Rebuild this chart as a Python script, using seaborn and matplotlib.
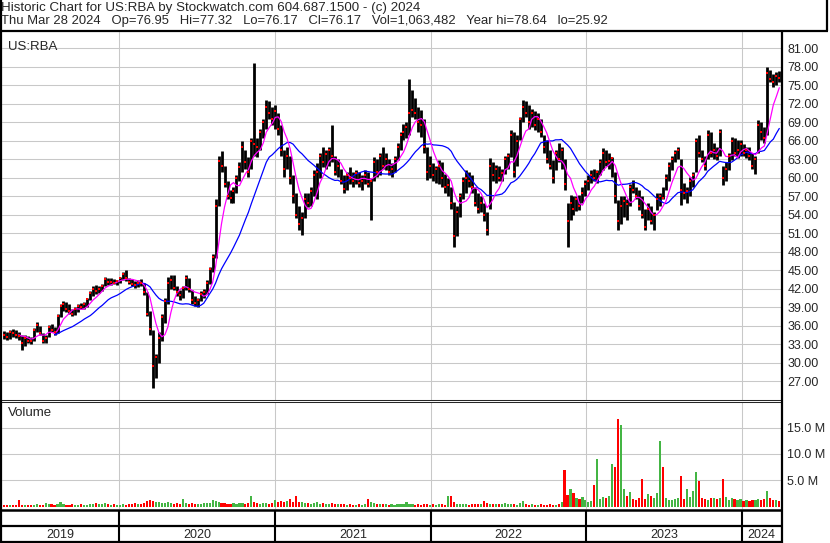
import numpy as np
import pandas as pd
import matplotlib
matplotlib.use("Agg")
import matplotlib.pyplot as plt
from matplotlib.lines import Line2D
import seaborn as sns

# weekly bars (Friday of each week), Apr 2019 - Mar 2024
week_start = "2019-04-05"
n_weeks = 261

price_lo = [
    33.9, 33.8, 33.9, 34.2, 34.0, 33.8, 32.1, 32.8, 33.2, 33.0,
    33.5, 35.0, 34.5, 33.2, 33.3, 34.2, 35.0, 34.6, 34.8, 37.5,
    38.5, 38.3, 38.0, 37.6, 37.7, 38.3, 38.7, 38.8, 39.0, 40.2,
    40.9, 41.2, 41.3, 41.6, 42.4, 42.7, 42.6, 42.8, 42.7, 42.9,
    43.5, 43.3, 42.8, 42.4, 42.2, 42.3, 42.4, 41.0, 37.6, 34.5,
    25.9, 27.5, 30.0, 33.5, 36.5, 39.5, 42.0, 41.8, 40.8, 40.2,
    40.5, 41.8, 41.5, 39.6, 39.2, 39.0, 40.0, 40.6, 41.2, 42.8,
    44.8, 47.0, 55.5, 61.0, 58.5, 56.5, 55.9, 56.0, 57.5, 59.5,
    61.0, 61.5, 60.2, 61.5, 63.5, 63.4, 64.5, 66.5, 68.0, 69.5,
    68.5, 68.0, 67.0, 63.5, 60.2, 61.5, 59.0, 55.9, 53.5, 51.5,
    50.8, 53.5, 55.3, 55.5, 57.0, 56.5, 60.0, 61.8, 61.5, 62.0,
    62.5, 60.5, 60.2, 59.0, 57.5, 58.0, 59.0, 58.6, 59.0, 58.5,
    58.0, 59.0, 58.5, 53.2, 59.5, 60.2, 60.5, 61.5, 61.3, 60.5,
    60.2, 61.0, 62.9, 64.5, 66.1, 66.5, 67.0, 69.9, 69.5, 67.5,
    66.7, 64.0, 59.7, 60.0, 59.5, 59.1, 59.0, 58.6, 57.5, 57.0,
    55.0, 48.8, 50.5, 53.7, 56.5, 57.5, 58.6, 57.5, 55.5, 54.3,
    54.5, 53.0, 50.8, 55.0, 59.5, 59.1, 59.5, 59.5, 60.7, 61.5,
    63.4, 60.2, 62.0, 66.1, 69.0, 69.9, 68.0, 68.2, 67.8, 67.5,
    66.7, 64.0, 62.4, 61.5, 59.1, 61.3, 62.5, 61.5, 58.0, 48.8,
    53.2, 54.0, 54.6, 54.8, 56.0, 57.0, 58.0, 59.1, 59.5, 59.2,
    60.5, 61.3, 62.0, 61.5, 60.2, 56.0, 51.6, 52.5, 53.7, 53.2,
    55.5, 57.5, 56.5, 54.8, 53.5, 51.6, 53.2, 52.5, 51.6, 54.8,
    55.5, 56.5, 58.0, 59.5, 61.3, 62.5, 63.0, 55.6, 56.5, 55.9,
    57.0, 58.5, 61.0, 63.4, 62.5, 61.3, 63.0, 63.4, 63.0, 62.9,
    63.5, 58.8, 59.5, 61.3, 62.9, 63.5, 63.2, 63.5, 63.5, 63.2,
    62.9, 61.5, 60.7, 64.0, 66.1, 65.6, 67.0, 75.5, 74.8, 75.0, 75.5,
]

price_hi = [
    35.2, 35.0, 35.4, 35.5, 35.3, 35.1, 34.5, 34.6, 34.4, 34.2,
    35.6, 36.6, 36.0, 34.8, 34.5, 36.2, 36.3, 35.8, 38.0, 39.6,
    40.0, 39.9, 39.5, 38.8, 39.0, 39.5, 39.8, 39.9, 40.6, 41.6,
    42.5, 42.6, 42.4, 42.8, 43.9, 43.8, 43.7, 43.6, 43.5, 44.0,
    44.8, 45.1, 43.8, 43.6, 43.3, 43.5, 43.6, 43.0, 41.5, 38.5,
    35.3, 31.5, 35.0, 38.0, 40.5, 44.0, 44.3, 44.2, 42.5, 41.8,
    42.5, 44.2, 43.8, 41.8, 40.8, 40.5, 41.6, 42.0, 43.4, 45.6,
    47.6, 56.5, 63.5, 64.3, 62.0, 59.5, 58.0, 58.5, 60.5, 62.5,
    65.9, 64.5, 63.4, 66.5, 78.6, 66.5, 68.0, 69.5, 72.6, 72.4,
    71.5, 71.8, 70.5, 68.5, 64.5, 65.0, 63.5, 60.5, 57.5, 55.5,
    54.5, 57.5, 57.5, 58.5, 61.3, 62.4, 64.0, 65.0, 64.5, 65.0,
    68.6, 63.5, 63.0, 61.5, 60.5, 61.0, 61.8, 61.0, 61.3, 61.0,
    60.5, 61.3, 61.0, 60.0, 63.4, 63.0, 64.0, 65.0, 64.0, 63.0,
    62.4, 63.5, 65.6, 67.5, 68.8, 69.0, 76.1, 74.2, 73.0, 71.5,
    71.0, 69.5, 65.0, 63.5, 62.4, 62.0, 62.9, 62.5, 60.7, 60.0,
    58.5, 56.1, 55.5, 57.5, 60.2, 61.3, 61.0, 60.5, 58.5, 57.5,
    57.0, 56.0, 54.5, 63.2, 62.5, 62.1, 62.0, 61.5, 63.5, 64.0,
    67.8, 67.5, 67.0, 69.9, 72.6, 72.4, 71.8, 71.2, 70.8, 70.5,
    69.5, 67.0, 66.1, 64.5, 62.9, 64.5, 65.6, 65.0, 63.0, 56.0,
    57.2, 57.0, 57.0, 57.2, 58.5, 59.7, 60.5, 61.3, 61.5, 61.3,
    63.0, 64.8, 64.5, 64.0, 63.4, 61.0, 56.4, 57.0, 57.0, 56.5,
    59.0, 59.7, 58.5, 58.0, 57.0, 55.0, 55.9, 55.5, 54.5, 57.5,
    57.5, 58.5, 60.7, 62.5, 63.5, 64.5, 65.0, 63.0, 59.1, 58.5,
    60.2, 61.0, 66.5, 66.9, 64.5, 63.5, 67.8, 67.5, 65.6, 65.0,
    68.0, 62.0, 62.5, 64.0, 66.7, 66.5, 66.1, 66.1, 65.5, 65.0,
    65.0, 64.0, 63.5, 69.4, 69.0, 68.3, 78.0, 77.5, 76.8, 77.2, 77.3,
]

price_close = [
    34.5, 34.2, 35.0, 34.8, 34.6, 34.3, 33.2, 34.0, 33.6, 33.5,
    35.3, 36.2, 34.8, 33.6, 34.0, 35.9, 35.4, 35.0, 37.6, 39.2,
    39.5, 38.8, 38.4, 38.0, 38.7, 39.2, 39.0, 39.6, 40.3, 41.4,
    42.0, 41.6, 42.0, 42.5, 43.6, 43.1, 43.2, 43.0, 43.3, 43.8,
    44.4, 43.8, 43.2, 42.8, 42.6, 43.0, 42.9, 41.5, 38.0, 35.5,
    29.5, 31.0, 34.0, 37.5, 40.0, 43.0, 43.5, 42.2, 41.5, 41.0,
    42.2, 43.8, 42.0, 40.2, 39.8, 40.2, 41.2, 41.5, 43.0, 45.2,
    47.2, 55.5, 62.8, 62.0, 59.0, 57.0, 56.8, 57.8, 60.0, 61.8,
    65.0, 62.5, 61.0, 66.0, 65.5, 65.0, 67.5, 69.0, 71.5, 70.5,
    69.5, 70.8, 68.0, 64.5, 61.5, 63.5, 60.0, 57.0, 54.0, 52.5,
    53.5, 56.5, 56.0, 57.8, 60.5, 61.0, 63.5, 62.5, 63.8, 64.5,
    63.5, 61.0, 62.0, 59.5, 58.2, 60.5, 60.0, 59.5, 60.8, 59.2,
    59.5, 60.5, 59.0, 59.5, 62.5, 61.0, 63.5, 62.0, 63.0, 61.0,
    61.5, 63.0, 65.0, 67.0, 67.5, 68.2, 70.5, 71.0, 70.5, 69.0,
    68.5, 65.0, 61.0, 62.0, 60.5, 61.5, 62.0, 60.0, 58.5, 58.8,
    56.0, 50.5, 54.5, 57.0, 59.5, 60.0, 59.5, 58.5, 56.0, 55.0,
    56.0, 54.0, 51.5, 62.0, 60.5, 61.5, 60.0, 60.8, 63.0, 63.5,
    67.0, 61.0, 66.0, 69.5, 71.5, 70.5, 69.0, 70.5, 68.5, 69.5,
    67.5, 65.0, 63.0, 62.0, 60.0, 64.0, 63.0, 64.5, 59.0, 53.0,
    56.0, 55.0, 56.5, 55.5, 57.5, 59.0, 59.5, 60.5, 60.0, 61.0,
    62.5, 64.0, 62.5, 62.8, 63.2, 57.0, 53.0, 55.5, 56.2, 55.8,
    58.5, 58.0, 57.0, 55.5, 54.0, 52.0, 55.0, 53.0, 54.0, 56.5,
    57.0, 56.8, 60.0, 62.0, 63.0, 64.0, 64.5, 58.0, 57.5, 57.8,
    59.5, 60.5, 66.0, 64.0, 63.0, 62.0, 67.0, 64.0, 64.5, 63.5,
    67.5, 60.0, 61.5, 63.5, 66.0, 64.0, 64.5, 65.5, 64.0, 64.5,
    63.5, 62.0, 63.0, 68.5, 67.5, 66.5, 77.0, 76.0, 75.5, 76.5, 76.17,
]

# volume, millions of shares
volume_m = [
    0.3, 0.2, 0.3, 0.2, 0.3, 1.2, 0.3, 0.2, 0.3, 0.2,
    0.3, 0.4, 0.3, 0.3, 0.6, 0.4, 0.5, 0.3, 0.5, 0.8,
    0.4, 0.3, 0.3, 0.4, 0.3, 0.3, 0.4, 0.3, 0.3, 0.4,
    0.5, 0.6, 0.4, 0.5, 0.6, 0.4, 0.3, 0.4, 0.3, 0.3,
    0.4, 0.3, 0.4, 0.5, 0.6, 0.5, 0.5, 0.7, 1.0, 1.2,
    1.1, 0.9, 0.8, 0.6, 0.7, 0.8, 0.6, 0.5, 0.6, 0.5,
    1.4, 0.7, 0.5, 0.6, 0.4, 0.5, 0.5, 0.6, 0.7, 0.6,
    1.3, 1.0, 0.8, 0.6, 0.7, 0.5, 0.5, 0.6, 0.5, 0.6,
    0.6, 0.5, 0.6, 2.0, 0.9, 0.6, 0.5, 0.7, 0.6, 0.5,
    0.7, 1.2, 0.9, 1.1, 0.9, 1.0, 1.5, 0.8, 2.0, 0.9,
    0.8, 0.7, 0.6, 0.5, 0.6, 0.8, 0.5, 0.6, 0.5, 0.4,
    0.6, 0.5, 0.4, 0.5, 0.4, 0.3, 0.4, 0.3, 0.3, 0.4,
    0.3, 0.4, 1.4, 0.8, 0.6, 0.5, 0.4, 0.5, 0.4, 0.3,
    0.4, 0.3, 0.5, 0.4, 0.5, 0.9, 0.5, 0.4, 0.3, 0.4,
    0.3, 0.5, 0.4, 0.3, 0.4, 0.3, 0.4, 0.5, 0.3, 2.0,
    2.0, 0.8, 0.5, 0.4, 0.5, 0.4, 0.3, 0.4, 0.5, 0.4,
    0.5, 1.0, 0.6, 0.5, 0.4, 0.5, 0.4, 0.5, 0.6, 0.4,
    0.5, 0.4, 0.3, 0.6, 1.0, 0.4, 0.3, 0.4, 0.3, 0.3,
    0.4, 0.3, 0.3, 0.4, 0.3, 0.3, 0.4, 0.8, 6.95, 2.2,
    3.3, 2.6, 1.6, 1.4, 1.8, 1.2, 0.9, 1.0, 4.1, 9.05,
    1.5, 1.8, 1.6, 2.0, 8.1, 7.6, 16.7, 15.5, 3.4, 2.0,
    2.8, 1.4, 1.2, 1.6, 5.2, 1.5, 2.4, 2.0, 1.7, 2.5,
    12.5, 7.5, 1.6, 1.3, 1.2, 1.4, 1.6, 5.8, 1.5, 3.3,
    1.8, 3.0, 6.6, 4.9, 1.6, 1.4, 1.2, 1.6, 1.7, 1.5,
    1.6, 5.2, 1.8, 1.3, 1.6, 1.5, 1.2, 1.4, 1.0, 1.2,
    1.1, 1.3, 1.2, 1.5, 1.2, 1.4, 3.0, 1.6, 1.2, 1.3, 1.06,
]

price_ticks = list(range(27, 82, 3))
volume_ticks = [5, 10, 15]
years = ["2019", "2020", "2021", "2022", "2023", "2024"]

header_1 = "Historic Chart for US:RBA by Stockwatch.com 604.687.1500 - (c) 2024"
header_2 = ("Thu Mar 28 2024   Op=76.95   Hi=77.32   Lo=76.17   Cl=76.17   "
            "Vol=1,063,482   Year hi=78.64   lo=25.92")

df = pd.DataFrame({
    "date": pd.date_range(week_start, periods=n_weeks, freq="7D"),
    "lo": price_lo, "hi": price_hi, "close": price_close, "vol": volume_m,
})
# moving averages (~30 day and ~90 day)
df["ma_fast"] = df["close"].rolling(6).mean()
df["ma_slow"] = df["close"].rolling(18).mean()
chg = df["close"].diff().fillna(-1)
df["vcol"] = np.where(chg > 0, "#44b544", np.where(chg < 0, "#ff0000", "#a8a8a8"))

sns.set_style("white")
plt.rcParams["font.family"] = ["Liberation Sans", "DejaVu Sans"]
plt.rcParams["font.size"] = 9

W, H = 830, 543
fig = plt.figure(figsize=(W / 100, H / 100), dpi=100)


def fx(px):
    return px / W


def fy(py):
    return 1 - py / H


def line(x0, y0, x1, y1, lw=0.72, color="black"):
    fig.add_artist(Line2D([fx(x0), fx(x1)], [fy(y0), fy(y1)], color=color,
                          lw=lw, solid_capstyle="butt"))


t0 = pd.Timestamp(week_start)
xlim = (t0 - pd.Timedelta(days=4.3), t0 + pd.Timedelta(days=1824))
year_lines = [pd.Timestamp(f"{y}-01-01") for y in years[1:]]
grid_kw = dict(color="#c8c8c8", lw=0.75)

# price panel
ax = fig.add_axes([fx(2), fy(400), fx(781) - fx(2), fy(32) - fy(400)])
ax.vlines(df["date"], df["lo"], df["hi"], color="black", lw=2.0)
sns.lineplot(data=df, x="date", y="ma_slow", ax=ax, color="#0000ff", lw=0.9)
sns.lineplot(data=df, x="date", y="ma_fast", ax=ax, color="#ff00ff", lw=0.9)
sns.scatterplot(data=df, x="date", y="close", ax=ax, color="#ff0000",
                marker="s", s=3, linewidth=0, zorder=5)
ax.set_xlim(xlim)
ax.set_ylim(24.0, 83.64)
ax.set_yticks(price_ticks)
ax.set_yticklabels([f"{v:.2f}" for v in price_ticks])
ax.yaxis.tick_right()
ax.set_xticks(year_lines)
ax.set_xticklabels([])
ax.tick_params(length=0, pad=4.5, labelsize=9)
ax.grid(True, **grid_kw)
ax.set_axisbelow(True)
ax.set_xlabel("")
ax.set_ylabel("")
for s in ["top", "left", "right"]:
    ax.spines[s].set_visible(False)
ax.spines["bottom"].set_linewidth(0.75)
ax.text(0.008, 0.975, "US:RBA", transform=ax.transAxes, va="top", ha="left", fontsize=9.5)

# volume panel
axv = fig.add_axes([fx(2), fy(508.5), fx(781) - fx(2), fy(402) - fy(508.5)])
axv.bar(df["date"], df["vol"], width=5, color=df["vcol"], lw=0)
axv.set_xlim(xlim)
axv.set_ylim(-0.38, 19.9)
axv.set_yticks(volume_ticks)
axv.set_yticklabels([f"{v:.1f} M" for v in volume_ticks])
axv.yaxis.tick_right()
axv.set_xticks(year_lines)
axv.set_xticklabels([])
axv.tick_params(length=0, pad=4.5, labelsize=9)
axv.grid(True, **grid_kw)
axv.set_axisbelow(True)
for s in ["bottom", "left", "right"]:
    axv.spines[s].set_visible(False)
axv.spines["top"].set_linewidth(0.75)
axv.text(0.008, 0.9, "Volume", transform=axv.transAxes, va="center", ha="left", fontsize=9.5)

# year row
axy = fig.add_axes([fx(2), fy(541), fx(781) - fx(2), fy(510) - fy(541)])
axy.set_xlim(xlim)
axy.set_ylim(0, 1)
axy.axis("off")
bounds = [xlim[0]] + year_lines + [xlim[1]]
for yl in year_lines:
    axy.axvline(yl, color="black", lw=1.5)
for i, yr in enumerate(years):
    mid = bounds[i] + (bounds[i + 1] - bounds[i]) / 2
    axy.text(mid, 0.2, yr, ha="center", va="center", fontsize=9)

# header and frame
fig.text(fx(1), fy(8.5), header_1, ha="left", va="center", fontsize=9.6)
fig.text(fx(1), fy(21), header_2, ha="left", va="center", fontsize=9.35)
line(0, 31, 828, 31, lw=1.6)
line(827, 0, 827, 31, lw=1.6)
line(1, 0, 1, 543, lw=1.6)
line(782, 31, 782, 543, lw=1.6)
line(0, 509.5, 782, 509.5, lw=1.8)
line(0, 526, 782, 526, lw=1.6)
line(0, 542, 782, 542, lw=1.6)

fig.savefig("out.png", dpi=100)
